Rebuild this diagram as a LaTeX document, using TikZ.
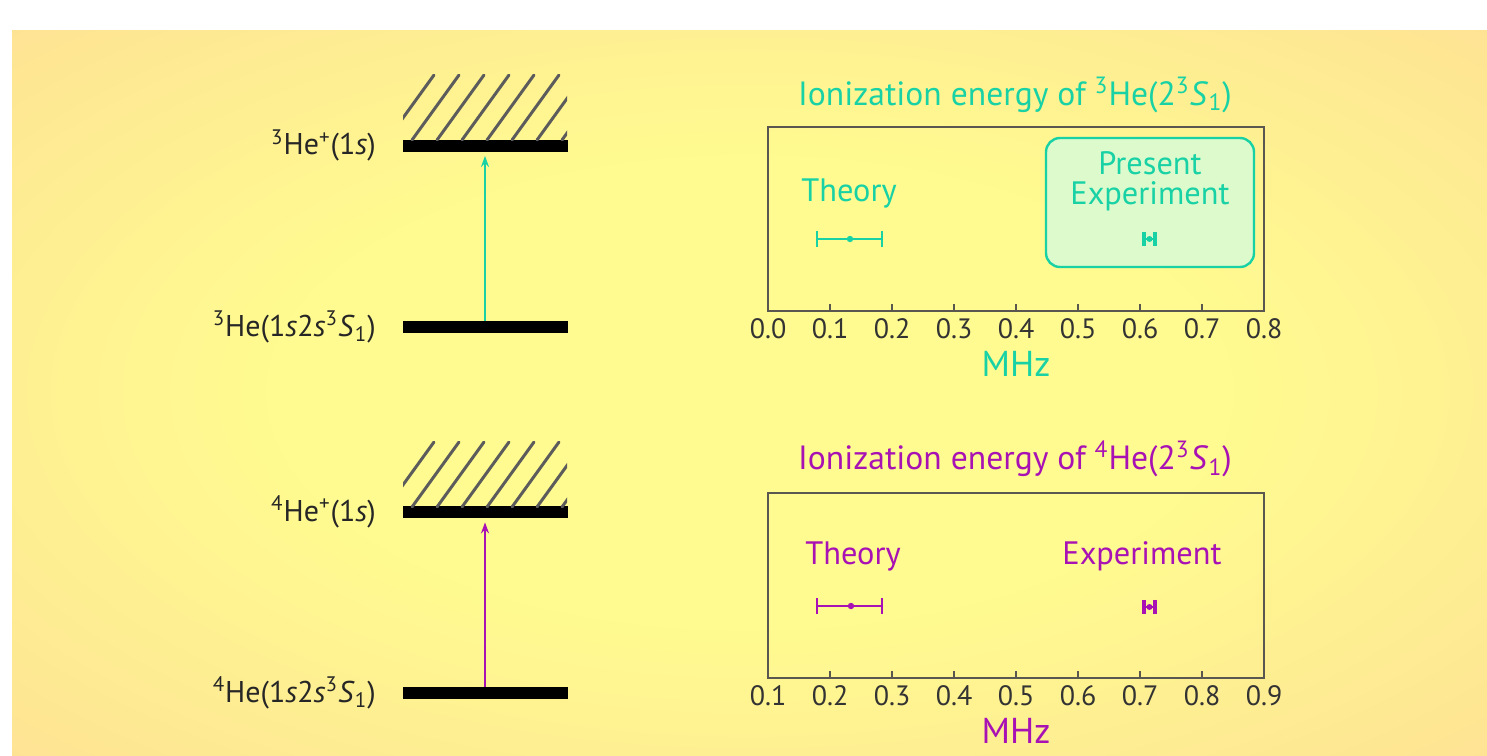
\documentclass[tikz,border=0pt]{standalone}
\usepackage{fontspec}
\setmainfont{PT Sans}
\usetikzlibrary{positioning, arrows.meta}

\definecolor{tealc}{HTML}{18D2A6}
\definecolor{purpc}{HTML}{A812B4}
\definecolor{bgin}{HTML}{FFFB90}
\definecolor{bgout}{HTML}{FDD696}
\definecolor{boxgreen}{HTML}{DCFACB}
\definecolor{axisgray}{HTML}{5A5650}
\definecolor{hatchgray}{HTML}{5C5C5C}
\pgfdeclareradialshading{bgglow}{\pgfpoint{0bp}{0bp}}{color(0bp)=(bgin); color(16bp)=(bgin); color(46bp)=(bgout); color(75bp)=(bgout)}

\begin{document}
\begin{tikzpicture}[
      x=0.5pt, y=-0.5pt,
      level/.style={fill=black, inner sep=0pt, minimum width=82.5pt, minimum height=6pt},
      lvllabel/.style={font=\fontsize{15}{17}\selectfont, text=black!85, inner sep=0pt},
      hatch/.style={hatchgray, line width=1.5pt, line cap=round},
      arr/.style={-{Stealth[length=5.5pt, width=4pt]}, line width=0.9pt, shorten >=2pt},
      frame/.style={draw=axisgray, line width=0.8pt},
      ticklbl/.style={font=\fontsize{14}{16}\selectfont, text=black!80, inner sep=0pt},
      title/.style={font=\fontsize{16.8}{19}\selectfont, inner sep=0pt},
      unit/.style={font=\fontsize{18}{20}\selectfont, inner sep=0pt},
      tag/.style={font=\fontsize{16.2}{17}\selectfont, inner sep=0pt, align=center},
      errbar/.style={line width=1pt},
      expbar/.style={line width=1.8pt}
    ]
    % background
    \fill[white] (0,0) rectangle (1487,755);
    \shade[shading=bgglow] (12,30) rectangle (1487,755);

    % 3He levels
    \node[level] (ion3) at (485,145.5) {};
    \node[level] (met3) at (485,327) {};
    \node[lvllabel, left=13pt of ion3] (ion3lbl) {\textsuperscript{3}He\textsuperscript{+}(1\textit{s})};
    \node[lvllabel, left=13pt of met3] (met3lbl) {\textsuperscript{3}He(1\textit{s}2\textit{s}\textsuperscript{3}\textit{S}\textsubscript{1})};
    \begin{scope}
      \clip (403,74) rectangle (567,140);
      \foreach \hx in {387,412,...,587}
        \draw[hatch] (\hx,140) -- ++(47,-65);
    \end{scope}
    \draw[arr, tealc] (met3.north) -- (ion3.south);

    % 4He levels
    \node[level] (ion4) at (485,512) {};
    \node[level] (met4) at (485,693) {};
    \node[lvllabel, left=13pt of ion4] (ion4lbl) {\textsuperscript{4}He\textsuperscript{+}(1\textit{s})};
    \node[lvllabel, left=13pt of met4] (met4lbl) {\textsuperscript{4}He(1\textit{s}2\textit{s}\textsuperscript{3}\textit{S}\textsubscript{1})};
    \begin{scope}
      \clip (403,441) rectangle (567,507);
      \foreach \hx in {387,412,...,587}
        \draw[hatch] (\hx,507) -- ++(47,-65);
    \end{scope}
    \draw[arr, purpc] (met4.north) -- (ion4.south);

    % 3He plot
    \node[title, text=tealc] (title3) at (1015,95) {Ionization energy of \textsuperscript{3}He(2\textsuperscript{3}\textit{S}\textsubscript{1})};
    \draw[frame] (768,127) rectangle (1264,311);
    \foreach \v [count=\i from 0] in {0.0,0.1,0.2,0.3,0.4,0.5,0.6,0.7,0.8} {
      \draw[frame] (768+62*\i,311) -- ++(0,-7);
      \node[ticklbl] (tick3-\i) at (768+62*\i,329) {\v};
    }
    \node[unit, text=tealc] (unit3) at (1016,364) {MHz};
    \node[draw=tealc, fill=boxgreen, line width=1.2pt, rounded corners=7pt,
          minimum width=104pt, minimum height=64.5pt] (present) at (1150,202.5) {};
    \node[tag, text=tealc] (present3) at (1150,181) {Present\\[-2pt]Experiment};
    \node[tag, text=tealc] (theory3) at (849,193) {Theory};
    \coordinate (th3a) at (817,239);
    \coordinate (th3b) at (882,239);
    \coordinate (th3m) at (850,239);
    \coordinate (ex3a) at (1144,239);
    \coordinate (ex3b) at (1155,239);
    \coordinate (ex3m) at (1149.5,239);
    \begin{scope}[tealc]
      \draw[errbar] (th3a) -- (th3b);
      \draw[errbar] ([yshift=3.8pt]th3a) -- ([yshift=-3.8pt]th3a);
      \draw[errbar] ([yshift=3.8pt]th3b) -- ([yshift=-3.8pt]th3b);
      \fill (th3m) circle (1.6pt);
      \draw[errbar] (ex3a) -- (ex3b);
      \draw[expbar] ([yshift=3.6pt]ex3a) -- ([yshift=-3.6pt]ex3a);
      \draw[expbar] ([yshift=3.6pt]ex3b) -- ([yshift=-3.6pt]ex3b);
      \fill (ex3m) circle (1.5pt);
    \end{scope}

    % 4He plot
    \node[title, text=purpc] (title4) at (1015,459) {Ionization energy of \textsuperscript{4}He(2\textsuperscript{3}\textit{S}\textsubscript{1})};
    \draw[frame] (768,493) rectangle (1264,678);
    \foreach \v [count=\i from 0] in {0.1,0.2,0.3,0.4,0.5,0.6,0.7,0.8,0.9} {
      \draw[frame] (768+62*\i,678) -- ++(0,-7);
      \node[ticklbl] (tick4-\i) at (768+62*\i,696) {\v};
    }
    \node[unit, text=purpc] (unit4) at (1016,731) {MHz};
    \node[tag, text=purpc] (theory4) at (853,556) {Theory};
    \node[tag, text=purpc] (exper4) at (1142,556) {Experiment};
    \coordinate (th4a) at (817,606);
    \coordinate (th4b) at (882,606);
    \coordinate (th4m) at (851,606);
    \coordinate (ex4a) at (1144,607);
    \coordinate (ex4b) at (1155,607);
    \coordinate (ex4m) at (1149.5,607);
    \begin{scope}[purpc]
      \draw[errbar] (th4a) -- (th4b);
      \draw[errbar] ([yshift=3.8pt]th4a) -- ([yshift=-3.8pt]th4a);
      \draw[errbar] ([yshift=3.8pt]th4b) -- ([yshift=-3.8pt]th4b);
      \fill (th4m) circle (1.6pt);
      \draw[errbar] (ex4a) -- (ex4b);
      \draw[expbar] ([yshift=3.6pt]ex4a) -- ([yshift=-3.6pt]ex4a);
      \draw[expbar] ([yshift=3.6pt]ex4b) -- ([yshift=-3.6pt]ex4b);
      \fill (ex4m) circle (1.5pt);
    \end{scope}
  \end{tikzpicture}
\end{document}
